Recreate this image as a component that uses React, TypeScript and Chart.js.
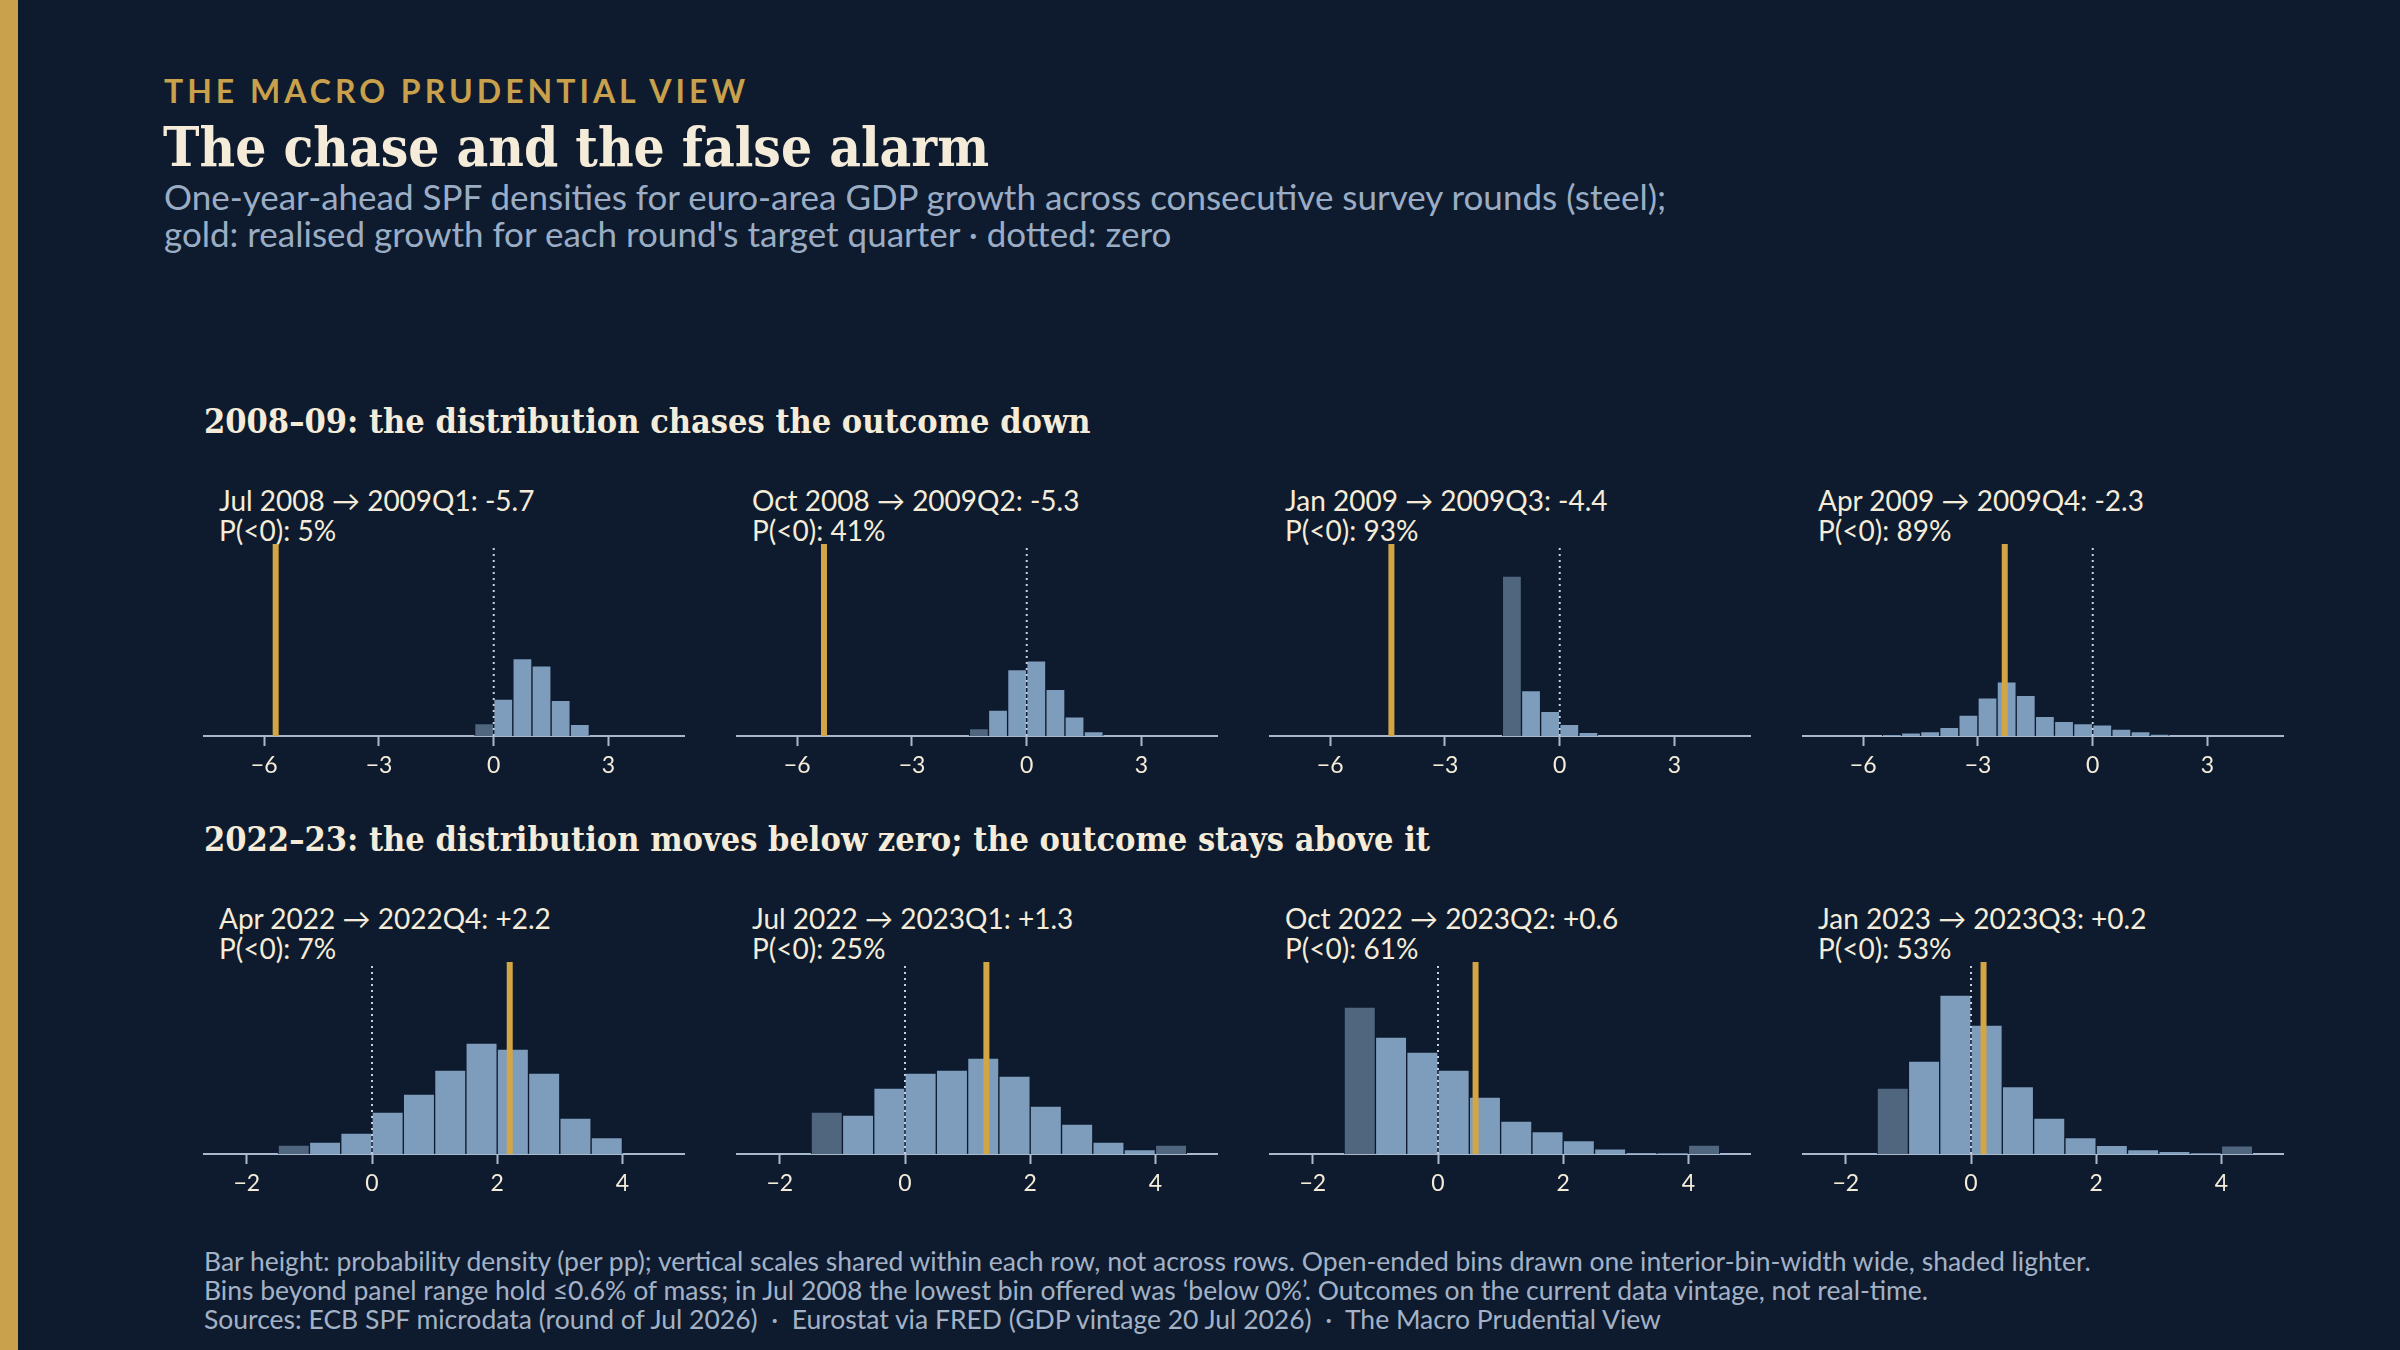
import React, { useEffect, useRef } from "react";
import { Chart, registerables } from "chart.js";

Chart.register(...registerables);

const BG = "#0e1b2e";
const GOLD = "#d3a545";
const KICKER = "#c9a04b";
const CREAM = "#f4ecd9";
const SUB = "#9badc4";
const FOOT = "#a3b2c6";
const STEEL = "#7e9cbb";
const STEEL_OPEN = "#50667f";
const AXIS = "#a9b8cc";
const ZERO = "#c6d0de";

const BIN_W = 0.5;

// 2008-09 rounds
const ROW1_ROUNDS = ["Jul 2008", "Oct 2008", "Jan 2009", "Apr 2009"];
const ROW1_TARGETS = ["2009Q1", "2009Q2", "2009Q3", "2009Q4"];
const ROW1_OUTCOMES = [-5.7, -5.3, -4.4, -2.3];
const ROW1_PNEG = [5, 41, 93, 89];
const ROW1_FIRST_EDGE = [-0.5, -1.5, -1.5, -5.5];
const ROW1_TICKS = [-6, -3, 0, 3];
const ROW1_RANGE = [-7.6, 5];
const ROW1_YMAX = 1.56;

const JUL08 = [0.1, 0.3, 0.63, 0.57, 0.29, 0.095];
const OCT08 = [0.06, 0.21, 0.54, 0.61, 0.38, 0.155, 0.035];
const JAN09 = [1.3, 0.37, 0.2, 0.095, 0.03];
const APR09 = [0.01, 0.025, 0.035, 0.07, 0.17, 0.31, 0.44, 0.33, 0.16, 0.12, 0.1, 0.09, 0.057, 0.035, 0.014];
const ROW1_DENS = [JUL08, OCT08, JAN09, APR09];
const ROW1_OPEN = [[0], [0], [0], []];

// 2022-23 rounds
const ROW2_ROUNDS = ["Apr 2022", "Jul 2022", "Oct 2022", "Jan 2023"];
const ROW2_TARGETS = ["2022Q4", "2023Q1", "2023Q2", "2023Q3"];
const ROW2_OUTCOMES = [2.2, 1.3, 0.6, 0.2];
const ROW2_PNEG = [7, 25, 61, 53];
const ROW2_FIRST_EDGE = [-1.5, -1.5, -1.5, -1.5];
const ROW2_TICKS = [-2, 0, 2, 4];
const ROW2_RANGE = [-2.7, 5];
const ROW2_YMAX = 0.64;

const APR22 = [0.03, 0.04, 0.07, 0.14, 0.2, 0.28, 0.37, 0.35, 0.27, 0.12, 0.055];
const JUL22 = [0.14, 0.13, 0.22, 0.27, 0.28, 0.32, 0.26, 0.16, 0.1, 0.04, 0.015, 0.03];
const OCT22 = [0.49, 0.39, 0.34, 0.28, 0.19, 0.11, 0.075, 0.045, 0.017, 0.004, 0.002, 0.03];
const JAN23 = [0.22, 0.31, 0.53, 0.43, 0.225, 0.12, 0.055, 0.029, 0.015, 0.009, 0.003, 0.027];
const ROW2_DENS = [APR22, JUL22, OCT22, JAN23];
const ROW2_OPEN = [[0], [0, 11], [0, 11], [0, 11]];

const PANEL_LEFT = 203;
const PANEL_STEP = 533;
const PANEL_W = 482;
const PLOT_H = 192;
const AXIS_H = 48;
const ROW_TOPS = [544, 962];

const fmtOutcome = (v: number) => (v > 0 ? "+" + v.toFixed(1) : v.toFixed(1));

type PanelProps = {
  dens: number[];
  firstEdge: number;
  open: number[];
  outcome: number;
  ticks: number[];
  range: number[];
  ymax: number;
};

const Panel: React.FC<PanelProps> = ({ dens, firstEdge, open, outcome, ticks, range, ymax }) => {
  const canvasRef = useRef<HTMLCanvasElement>(null);

  useEffect(() => {
    const markers = {
      id: "markers",
      afterDatasetsDraw(chart: any) {
        const { ctx, chartArea, scales } = chart;
        const x = scales.x;
        const x0 = x.getPixelForValue(0);
        ctx.save();
        ctx.strokeStyle = ZERO;
        ctx.lineWidth = 2;
        ctx.setLineDash([2, 4]);
        ctx.beginPath();
        ctx.moveTo(x0, chartArea.top + 4);
        ctx.lineTo(x0, chartArea.bottom);
        ctx.stroke();
        const xo = x.getPixelForValue(outcome);
        ctx.setLineDash([]);
        ctx.strokeStyle = GOLD;
        ctx.lineWidth = 6;
        ctx.beginPath();
        ctx.moveTo(xo, chartArea.top);
        ctx.lineTo(xo, chartArea.bottom);
        ctx.stroke();
        ctx.restore();
      },
    };

    const chart = new Chart(canvasRef.current as HTMLCanvasElement, {
      type: "bar",
      data: {
        datasets: [
          {
            data: dens.map((d, i) => ({ x: firstEdge + (i + 0.5) * BIN_W, y: d })),
            backgroundColor: dens.map((_, i) => (open.includes(i) ? STEEL_OPEN : STEEL)),
            borderColor: BG,
            borderWidth: 1,
            barPercentage: 1,
            categoryPercentage: 1,
          },
        ],
      },
      options: {
        animation: false,
        responsive: false,
        layout: { padding: 0 },
        plugins: { legend: { display: false }, tooltip: { enabled: false } },
        scales: {
          x: {
            type: "linear",
            min: range[0],
            max: range[1],
            offset: false,
            grid: {
              display: true,
              drawOnChartArea: false,
              drawTicks: true,
              tickLength: 10,
              tickWidth: 2,
              color: AXIS,
              offset: false,
            },
            border: { display: true, color: AXIS, width: 2 },
            ticks: {
              color: CREAM,
              font: { family: "Lato", size: 23 },
              padding: 6,
              callback: (v: any) => (v < 0 ? "\u2212" + Math.abs(v) : String(v)),
            },
            afterBuildTicks: (s: any) => {
              s.ticks = ticks.map((v) => ({ value: v }));
            },
            afterFit: (s: any) => {
              s.height = AXIS_H;
            },
          },
          y: { display: false, min: 0, max: ymax },
        },
      },
      plugins: [markers],
    } as any);

    return () => {
      chart.destroy();
    };
  }, []);

  return <canvas ref={canvasRef} width={PANEL_W} height={PLOT_H + AXIS_H}></canvas>;
};

const sans = "Lato, 'Noto Sans', sans-serif";
const serif = "'DejaVu Serif Condensed', 'DejaVu Serif', 'Liberation Serif', serif";

const Row: React.FC<{
  top: number;
  heading: string;
  rounds: string[];
  targets: string[];
  outcomes: number[];
  pneg: number[];
  dens: number[][];
  edges: number[];
  open: number[][];
  ticks: number[];
  range: number[];
  ymax: number;
}> = (p) => (
  <>
    <div
      style={{
        position: "absolute",
        left: 204,
        top: p.top - 141,
        fontFamily: serif,
        fontStretch: "condensed",
        fontWeight: 700,
        fontSize: 34,
        lineHeight: "36px",
        color: CREAM,
        whiteSpace: "nowrap",
      }}
    >
      {p.heading}
    </div>
    {p.rounds.map((r, i) => (
      <React.Fragment key={r}>
        <div
          style={{
            position: "absolute",
            left: PANEL_LEFT + i * PANEL_STEP + 16,
            top: p.top - 59,
            fontFamily: sans,
            fontSize: 28,
            lineHeight: "30px",
            color: CREAM,
            whiteSpace: "nowrap",
          }}
        >
          <div>
            {r} {"\u2192"} {p.targets[i]}: {fmtOutcome(p.outcomes[i])}
          </div>
          <div>P(&lt;0): {p.pneg[i]}%</div>
        </div>
        <div style={{ position: "absolute", left: PANEL_LEFT + i * PANEL_STEP, top: p.top }}>
          <Panel
            dens={p.dens[i]}
            firstEdge={p.edges[i]}
            open={p.open[i]}
            outcome={p.outcomes[i]}
            ticks={p.ticks}
            range={p.range}
            ymax={p.ymax}
          />
        </div>
      </React.Fragment>
    ))}
  </>
);

export default function App() {
  return (
    <div
      style={{
        position: "absolute",
        left: 0,
        top: 0,
        width: 2400,
        height: 1350,
        background: BG,
        overflow: "hidden",
      }}
    >
      <div style={{ position: "absolute", left: 0, top: 0, width: 18, height: 1350, background: KICKER }} />
      <div
        style={{
          position: "absolute",
          left: 164,
          top: 76,
          fontFamily: sans,
          fontWeight: 700,
          fontSize: 32,
          lineHeight: "30px",
          letterSpacing: 4,
          color: KICKER,
          whiteSpace: "nowrap",
        }}
      >
        THE MACRO PRUDENTIAL VIEW
      </div>
      <div
        style={{
          position: "absolute",
          left: 163,
          top: 119,
          fontFamily: serif,
          fontStretch: "condensed",
          fontWeight: 700,
          fontSize: 54.5,
          lineHeight: "56px",
          color: CREAM,
          whiteSpace: "nowrap",
        }}
      >
        The chase and the false alarm
      </div>
      <div
        style={{
          position: "absolute",
          left: 164,
          top: 178,
          fontFamily: sans,
          fontSize: 35,
          lineHeight: "37px",
          color: SUB,
          whiteSpace: "nowrap",
        }}
      >
        <div>One-year-ahead SPF densities for euro-area GDP growth across consecutive survey rounds (steel);</div>
        <div>gold: realised growth for each round's target quarter · dotted: zero</div>
      </div>

      <Row
        top={ROW_TOPS[0]}
        heading="2008–09: the distribution chases the outcome down"
        rounds={ROW1_ROUNDS}
        targets={ROW1_TARGETS}
        outcomes={ROW1_OUTCOMES}
        pneg={ROW1_PNEG}
        dens={ROW1_DENS}
        edges={ROW1_FIRST_EDGE}
        open={ROW1_OPEN}
        ticks={ROW1_TICKS}
        range={ROW1_RANGE}
        ymax={ROW1_YMAX}
      />
      <Row
        top={ROW_TOPS[1]}
        heading="2022–23: the distribution moves below zero; the outcome stays above it"
        rounds={ROW2_ROUNDS}
        targets={ROW2_TARGETS}
        outcomes={ROW2_OUTCOMES}
        pneg={ROW2_PNEG}
        dens={ROW2_DENS}
        edges={ROW2_FIRST_EDGE}
        open={ROW2_OPEN}
        ticks={ROW2_TICKS}
        range={ROW2_RANGE}
        ymax={ROW2_YMAX}
      />

      <div
        style={{
          position: "absolute",
          left: 204,
          top: 1247,
          fontFamily: sans,
          fontSize: 26.5,
          lineHeight: "29px",
          color: FOOT,
          whiteSpace: "nowrap",
        }}
      >
        <div>
          Bar height: probability density (per pp); vertical scales shared within each row, not across rows. Open-ended bins drawn one interior-bin-width wide, shaded lighter.
        </div>
        <div>
          Bins beyond panel range hold ≤0.6% of mass; in Jul 2008 the lowest bin offered was ‘below 0%’. Outcomes on the current data vintage, not real-time.
        </div>
        <div>
          Sources: ECB SPF microdata (round of Jul 2026) {"\u00a0·\u00a0"} Eurostat via FRED (GDP vintage 20 Jul 2026) {"\u00a0·\u00a0"} The Macro Prudential View
        </div>
      </div>
    </div>
  );
}
